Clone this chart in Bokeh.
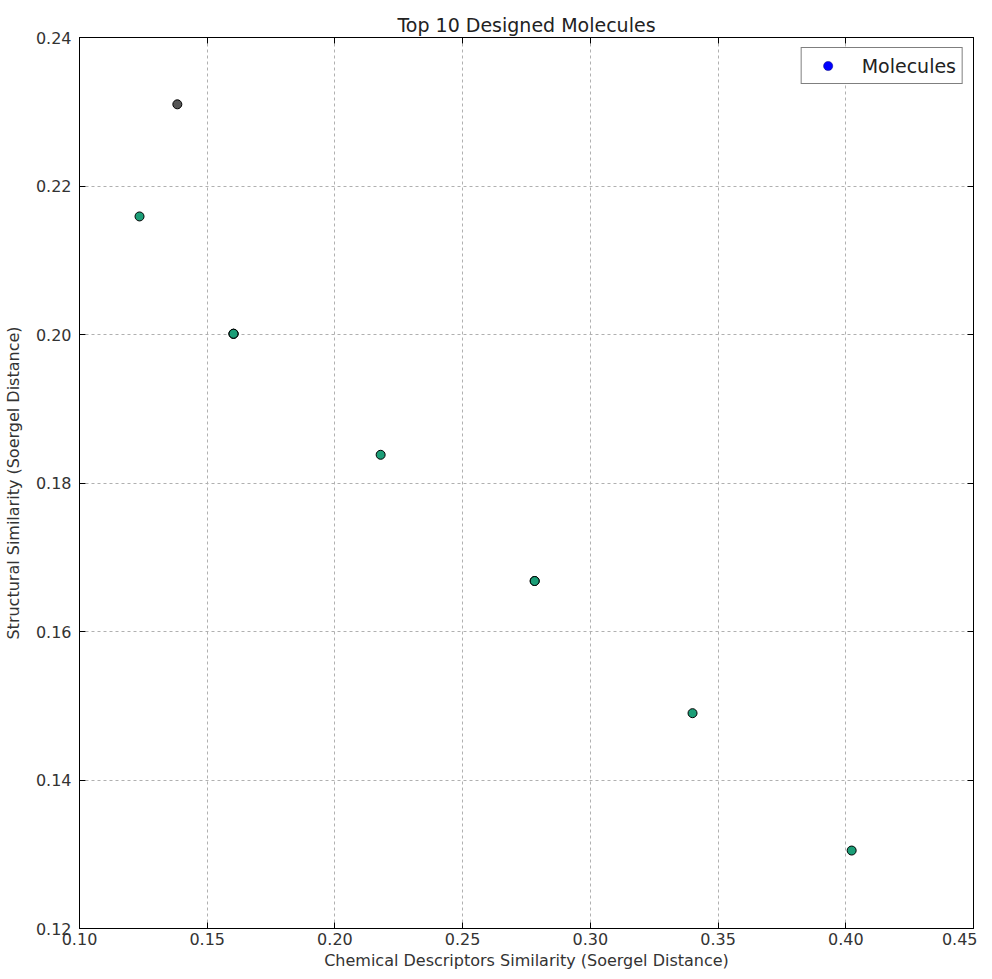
from bokeh.plotting import figure
from bokeh.models import (LinearAxis, Range1d, FixedTicker, Legend, LegendItem,
                          ColumnDataSource, CustomJSTickFormatter)
from bokeh.embed import file_html
from bokeh.resources import INLINE

# Data
chem_sim = [0.1383, 0.1235, 0.1603, 0.1603, 0.1603, 0.2179, 0.2782, 0.2782, 0.3400, 0.4023]
struct_sim = [0.2310, 0.2159, 0.2001, 0.2001, 0.2001, 0.1838, 0.1668, 0.1668, 0.1490, 0.1305]
point_colors = ["#555555", "#1b9e77", "#1b9e77", "#1b9e77", "#1b9e77",
                "#1b9e77", "#1b9e77", "#1b9e77", "#1b9e77", "#1b9e77"]
x_ticks = [0.10, 0.15, 0.20, 0.25, 0.30, 0.35, 0.40, 0.45]
y_ticks = [0.12, 0.14, 0.16, 0.18, 0.20, 0.22, 0.24]

FONT = "DejaVu Sans"

p = figure(frame_width=894, frame_height=891, output_backend="svg", toolbar_location=None,
           x_range=Range1d(0.10, 0.45), y_range=Range1d(0.12, 0.24),
           title="Top 10 Designed Molecules",
           min_border_left=75, min_border_right=4, min_border_top=37, min_border_bottom=20)

p.title.align = "center"
p.title.text_font = FONT
p.title.text_font_size = "19px"
p.title.text_font_style = "normal"
p.title.text_color = "#222222"
p.title.offset = 0
p.title.standoff = 3

p.outline_line_color = "black"
p.outline_line_width = 1
p.background_fill_color = "white"
p.border_fill_color = "white"

label_fmt = CustomJSTickFormatter(code="return tick.toFixed(2);")
blank_fmt = CustomJSTickFormatter(code="return '';")

def style_axis(ax, ticks, fmt):
    ax.ticker = FixedTicker(ticks=ticks)
    ax.formatter = fmt
    ax.major_tick_in = 6
    ax.major_tick_out = 0
    ax.minor_tick_in = 0
    ax.minor_tick_out = 0
    ax.axis_line_color = "black"
    ax.major_tick_line_color = "black"
    ax.major_label_text_font = FONT
    ax.major_label_text_font_size = "16px"
    ax.major_label_text_color = "#333333"
    ax.axis_label_text_font = FONT
    ax.axis_label_text_font_size = "16px"
    ax.axis_label_text_font_style = "normal"
    ax.axis_label_text_color = "#333333"

xa = p.xaxis[0]
ya = p.yaxis[0]
style_axis(xa, x_ticks, label_fmt)
style_axis(ya, y_ticks, label_fmt)
xa.axis_label = "Chemical Descriptors Similarity (Soergel Distance)"
ya.axis_label = "Structural Similarity (Soergel Distance)"
xa.major_label_standoff = 4
ya.major_label_standoff = 8
xa.axis_label_standoff = 3
ya.axis_label_standoff = 10

top_ax = LinearAxis()
right_ax = LinearAxis()
style_axis(top_ax, x_ticks, blank_fmt)
style_axis(right_ax, y_ticks, blank_fmt)
top_ax.major_label_standoff = 0
right_ax.major_label_standoff = 0
p.add_layout(top_ax, "above")
p.add_layout(right_ax, "right")

p.xgrid.ticker = FixedTicker(ticks=x_ticks)
p.ygrid.ticker = FixedTicker(ticks=y_ticks)
for g in (p.xgrid[0], p.ygrid[0]):
    g.grid_line_color = "#b0b0b0"
    g.grid_line_dash = "3 3"
    g.grid_line_width = 1

src = ColumnDataSource(dict(x=chem_sim, y=struct_sim, c=point_colors))
p.scatter("x", "y", source=src, size=9, fill_color="c", line_color="black", line_width=1)

# hidden proxy renderer that only supplies the blue legend marker
proxy = p.scatter(x=chem_sim[:1], y=struct_sim[:1], size=8, fill_color="#0000ff",
                  line_color="#000080", line_width=0.5, visible=False)
legend = Legend(items=[LegendItem(label="Molecules", renderers=[proxy])],
                location="top_right", margin=10, padding=6, spacing=0,
                glyph_width=40, glyph_height=23, label_standoff=14,
                label_text_font=FONT, label_text_font_size="19px",
                label_text_color="#222222", label_height=23,
                border_line_color="black", border_line_width=1,
                background_fill_color="white", background_fill_alpha=1)
p.add_layout(legend)

open("out.html", "w").write(file_html(p, INLINE))
